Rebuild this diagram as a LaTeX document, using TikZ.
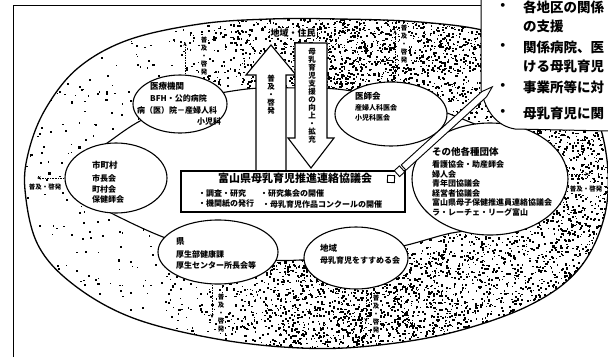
\documentclass[tikz,border=0pt]{standalone}
\usepackage{fontspec}
\setmainfont{Noto Sans CJK JP}
\usetikzlibrary{shapes.geometric,arrows.meta}
\begin{document}
\begin{tikzpicture}[x=1pt,y=-1pt,
  org/.style={draw,ellipse,fill=white,line width=1.1pt,inner sep=0pt},
  txt/.style={anchor=west,inner sep=0pt,font=\fontsize{8}{9}\selectfont\bfseries},
  ttl/.style={anchor=west,inner sep=0pt,font=\fontsize{8.5}{9}\selectfont\bfseries},
  vlab/.style={inner sep=0.6pt,fill=white,align=center,font=\fontsize{6.5}{8}\selectfont\bfseries},
  hlab/.style={inner sep=0.6pt,fill=white,font=\fontsize{6.5}{8}\selectfont\bfseries},
  dasharrow/.style={line width=0.8pt,dash pattern=on 1.6pt off 1pt,-{Stealth[length=4pt,width=3.4pt]}},
  bigarrow/.style={draw,fill=white,line width=1.1pt,line join=miter},
  call/.style={anchor=west,inner sep=0pt,font=\fontsize{13.5}{14}\selectfont\bfseries}]
\useasboundingbox (0,0) rectangle (608,357);
\def\outerpath{plot[smooth cycle,tension=0.6] coordinates {(25,190) (29,150) (46,108) (78,68) (128,40) (200,24) (270,19) (340,19) (420,22) (490,32) (550,58) (590,102) (607,160) (604,218) (578,270) (528,306) (450,333) (370,346) (300,348) (217,339) (133,318) (74,285) (38,245)}}
\def\innerpath{plot[smooth cycle,tension=0.55] coordinates {(76,180) (88,158) (110,141) (140,121) (185,101) (247,89) (300,88) (345,90) (420,104) (480,126) (540,150) (566,178) (545,210) (480,228) (447,234) (403,246) (350,256) (300,260) (270,260) (220,255) (163,237) (113,214) (86,198)}}
\begin{scope}
\clip (0,0) rectangle (608,357);
% stippled ring
\pgfmathsetseed{4711}
\begin{scope}
\clip \outerpath;
\foreach \i in {1,...,1300}{
  \pgfmathsetmacro{\rx}{20+590*rnd}\pgfmathsetmacro{\ry}{15+340*rnd}\pgfmathsetmacro{\rs}{1.1+1.1*rnd}
  \fill (\rx,\ry) rectangle ++(\rs,\rs);}
\foreach \i in {1,...,4200}{
  \pgfmathsetmacro{\rx}{250+360*sqrt(rnd)}\pgfmathsetmacro{\ry}{15+340*rnd}\pgfmathsetmacro{\rs}{1.1+1.2*rnd}
  \fill (\rx,\ry) rectangle ++(\rs,\rs);}
\foreach \i in {1,...,1300}{
  \pgfmathsetmacro{\rx}{160+360*(rnd+rnd)/2}\pgfmathsetmacro{\ry}{15+80*rnd}\pgfmathsetmacro{\rs}{1.1+1.2*rnd}
  \fill (\rx,\ry) rectangle ++(\rs,\rs);}
\foreach \i in {1,...,1500}{
  \pgfmathsetmacro{\rx}{160+360*(rnd+rnd)/2}\pgfmathsetmacro{\ry}{250+105*rnd}\pgfmathsetmacro{\rs}{1.1+1.2*rnd}
  \fill (\rx,\ry) rectangle ++(\rs,\rs);}
\end{scope}
\fill[white] \innerpath;
\draw[line width=1.1pt] \innerpath;
\draw[line width=1.3pt] \outerpath;
% frame
\draw[line width=1pt] (13,357) -- (13,5) -- (481,5);
% member ellipses
\node[org,minimum width=94pt,minimum height=58pt] (ikan) at (180,104) {};
\node[org,minimum width=112pt,minimum height=64pt] (ishikai) at (391,114) {};
\node[org,minimum width=102pt,minimum height=70pt] (shichoson) at (116,178) {};
\node[org,minimum width=120pt,minimum height=64pt] (ken) at (218,252) {};
\node[org,minimum width=104pt,minimum height=62pt] (chiiki) at (356,258) {};
\node[org,minimum width=156pt,minimum height=112pt] (sonota) at (490,179) {};
% texts in ellipses
\node[ttl] (t1a) at (150,86) {医療機関};
\node[txt] (t1b) at (150,98) {BFH・公的病院};
\node[txt] (t1c) at (137,110) {病（医）院－産婦人科};
\node[txt] (t1d) at (197,121) {小児科};
\node[ttl] (t2a) at (355,96) {医師会};
\node[txt,font=\fontsize{7}{8}\selectfont\bfseries] (t2b) at (355,108) {産婦人科医会};
\node[txt,font=\fontsize{7}{8}\selectfont\bfseries] (t2c) at (355,118) {小児科医会};
\node[ttl] (t3a) at (92,165) {市町村};
\node[txt] (t3b) at (92,178) {市長会};
\node[txt] (t3c) at (92,189) {町村会};
\node[txt] (t3d) at (92,199) {保健師会};
\node[ttl] (t4a) at (176,241) {県};
\node[txt] (t4b) at (176,254) {厚生部健康課};
\node[txt] (t4c) at (176,265) {厚生センター所長会等};
\node[ttl] (t5a) at (320,248) {地域};
\node[txt] (t5b) at (320,260) {母乳育児をすすめる会};
\node[ttl,font=\fontsize{9.5}{10}\selectfont\bfseries] (t6a) at (432,152) {その他各種団体};
\node[txt] (t6b) at (432,164) {看護協会・助産師会};
\node[txt] (t6c) at (432,174) {婦人会};
\node[txt] (t6d) at (432,183.5) {青年団協議会};
\node[txt] (t6e) at (432,193) {経営者協議会};
\node[txt] (t6f) at (432,202.5) {富山県母子保健推進員連絡協議会};
\node[txt] (t6g) at (432,212) {ラ・レーチェ・リーグ富山};
% big arrows
\draw[bigarrow] (256,171) -- (256,75) -- (246,75) -- (271,45) -- (296,75) -- (286,75) -- (286,171) -- cycle;
\node[vlab,fill=none,font=\fontsize{7.5}{8}\selectfont\bfseries] (upt) at (271,95) {普\\及\\・\\啓\\発};
\draw[bigarrow] (295,43) -- (327,43) -- (327,138) -- (334,138) -- (311,168) -- (288,138) -- (295,138) -- cycle;
\node[vlab,fill=none,font=\fontsize{7.5}{8}\selectfont\bfseries] (downt) at (312,96) {母\\乳\\育\\児\\支\\援\\の\\向\\上\\・\\拡\\充};
% central box
\node[draw,line width=2.2pt,fill=white,minimum width=224pt,minimum height=41pt,inner sep=0pt] (box) at (293,191.5) {};
\node[inner sep=0pt,font=\fontsize{11}{12}\selectfont\bfseries] (boxt) at (295,178) {富山県母乳育児推進連絡協議会};
\node[txt] (b1) at (198,193) {・調査・研究};
\node[txt] (b2) at (260,193) {・研究集会の開催};
\node[txt] (b3) at (198,204) {・機関紙の発行};
\node[txt] (b4) at (262,204) {・母乳育児作品コンクールの開催};
% small dissemination arrows
\coordinate (a1) at (185,42);
\draw[dasharrow] (ikan.north -| a1) -- (a1);
\node[vlab] (la1) at (204,56) {普\\及\\・\\啓\\発};
\coordinate (a2) at (395,30);
\draw[dasharrow] (ishikai.north -| a2) -- (a2);
\node[vlab] (la2) at (404,44) {普\\及\\・\\啓\\発};
\coordinate (a3) at (37,178);
\draw[dasharrow] (shichoson.west) -- (a3);
\node[hlab] (la3) at (45,187) {普及・啓発};
\coordinate (a4) at (212,318);
\draw[dasharrow] (ken.south -| a4) -- (a4);
\node[vlab] (la4) at (221,313) {普\\及\\・\\啓\\発};
\coordinate (a5) at (366,322);
\draw[dasharrow] (chiiki.south -| a5) -- (a5);
\node[vlab] (la5) at (376,314) {普\\及\\・\\啓\\発};
\coordinate (a6) at (589,174);
\draw[dasharrow] (sonota.east |- a6) -- (a6);
\node[hlab] (la6) at (586,189) {普及・啓発};
% label of the ring
\node[inner sep=1pt,fill=white,font=\fontsize{9}{10}\selectfont\bfseries] (area) at (293,33) {地域・住民};
% callout
\fill[white] (481,-2) -- (481,90) .. controls (486,112) and (497,126) .. (515,129) -- (610,131) -- (610,-2) -- cycle;
\draw[line width=1pt] (481,-2) -- (481,90) .. controls (486,112) and (497,126) .. (515,129) -- (610,131);
\node[call] (c1b) at (496,7) {・};
\node[call] (c1) at (523,7) {各地区の関係};
\node[call] (c2) at (523,26) {の支援};
\node[call] (c3b) at (496,47) {・};
\node[call] (c3) at (523,47) {関係病院、医};
\node[call] (c4) at (523,66) {ける母乳育児};
\node[call] (c5b) at (496,87) {・};
\node[call] (c5) at (523,87) {事業所等に対};
\node[call] (c6b) at (496,113) {・};
\node[call] (c6) at (523,113) {母乳育児に関};
% pencil
\begin{scope}[shift={(391,179)},rotate=42.3,line width=0.9pt]
\draw[fill=white] (-5,0) -- (0,-5) -- (5,0) -- (0,5) -- cycle;
\draw[fill=white] (8,-4) rectangle (15,4);
\draw[fill=white] (17,-3.5) -- (126,-3.5) -- (137,0) -- (126,3.5) -- (17,3.5) -- cycle;
\end{scope}
\end{scope}
\end{tikzpicture}
\end{document}
